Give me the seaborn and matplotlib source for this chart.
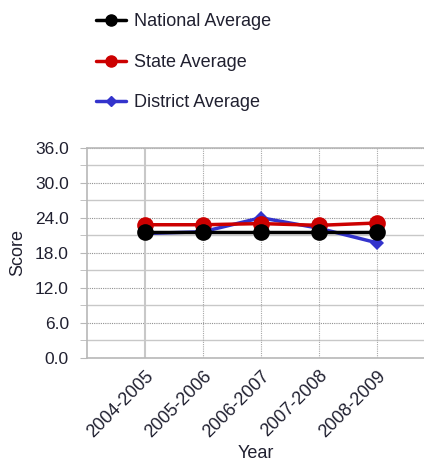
import matplotlib
matplotlib.use("Agg")
import matplotlib.pyplot as plt
from matplotlib.lines import Line2D
from matplotlib.ticker import MultipleLocator, FormatStrFormatter
import seaborn as sns
import pandas as pd

# ── Data ──────────────────────────────────────────────────────────────────────
years = ["2004-2005", "2005-2006", "2006-2007", "2007-2008", "2008-2009"]
national = [21.6, 21.6, 21.6, 21.6, 21.6]
state = [22.8, 22.8, 23.0, 22.7, 23.1]
district = [21.3, 21.6, 24.0, 22.2, 19.7]

series = ["National Average", "State Average", "District Average"]
colors = {"National Average": "#000000", "State Average": "#cc0000", "District Average": "#3333cc"}

df = pd.DataFrame({
    "Year": years * 3,
    "pos": list(range(len(years))) * 3,
    "Score": national + state + district,
    "series": ["National Average"] * 5 + ["State Average"] * 5 + ["District Average"] * 5,
})

# ── Figure ────────────────────────────────────────────────────────────────────
sns.set_style("white")
plt.rcParams["font.family"] = ["Liberation Sans", "DejaVu Sans"]
TXT = "#202030"

fig = plt.figure(figsize=(4.24, 4.62), dpi=100)
ax = fig.add_axes([0.205, 0.226, 0.795, 0.454])

# district first so national ends up on top
styles = {
    "District Average": dict(marker="D", markersize=7.5, zorder=3),
    "State Average": dict(marker="o", markersize=12, zorder=4),
    "National Average": dict(marker="o", markersize=12, zorder=5),
}
for name in ["District Average", "State Average", "National Average"]:
    sub = df[df["series"] == name]
    sns.lineplot(data=sub, x="pos", y="Score", ax=ax, color=colors[name],
                 linewidth=2.5, markeredgewidth=0, legend=False, **styles[name])

ax.set_xlim(-1, 4.81)
ax.set_ylim(0, 36)
ax.yaxis.set_major_locator(MultipleLocator(6))
ax.yaxis.set_minor_locator(MultipleLocator(3))
ax.yaxis.set_major_formatter(FormatStrFormatter("%.1f"))
ax.set_xticks(range(len(years)))
ax.set_xticklabels(years, rotation=45, ha="right", rotation_mode="anchor")

# grid: dotted majors, solid light minors, first category solid
ax.grid(which="major", axis="y", color="#909090", linestyle=(0, (1, 1)), linewidth=0.8)
ax.grid(which="minor", axis="y", color="#c8c8c8", linestyle="-", linewidth=1.0)
for i in range(1, len(years)):
    ax.axvline(i, color="#a8a8a8", linestyle=(0, (1, 1)), linewidth=0.8, zorder=1)
ax.axvline(0, color="#c8c8c8", linestyle="-", linewidth=1.5, zorder=1)
ax.set_axisbelow(True)

for side in ["left", "bottom", "top"]:
    ax.spines[side].set_color("#b8b8b8")
    ax.spines[side].set_linewidth(1.2)
ax.spines["right"].set_visible(False)

ax.tick_params(axis="y", which="both", length=5, color="#b8b8b8", labelsize=12.5,
               labelcolor=TXT, left=True, pad=8)
ax.tick_params(axis="x", length=0, labelsize=13, labelcolor=TXT, pad=7)

ax.set_xlabel("Year", fontsize=13, color=TXT, labelpad=3)
ax.set_ylabel("Score", fontsize=13, color=TXT, labelpad=6)

# ── Legend ────────────────────────────────────────────────────────────────────
handles = [
    Line2D([], [], color=colors["National Average"], marker="o", markersize=8, linewidth=2.5),
    Line2D([], [], color=colors["State Average"], marker="o", markersize=8, linewidth=2.5),
    Line2D([], [], color=colors["District Average"], marker="D", markersize=5, linewidth=2.5),
]
fig.legend(handles, series, loc="upper left", bbox_to_anchor=(0.187, 1.006),
           frameon=False, fontsize=13, handlelength=1.67, labelspacing=1.3,
           handletextpad=0.45, labelcolor=TXT)

fig.savefig("out.png", dpi=100)
